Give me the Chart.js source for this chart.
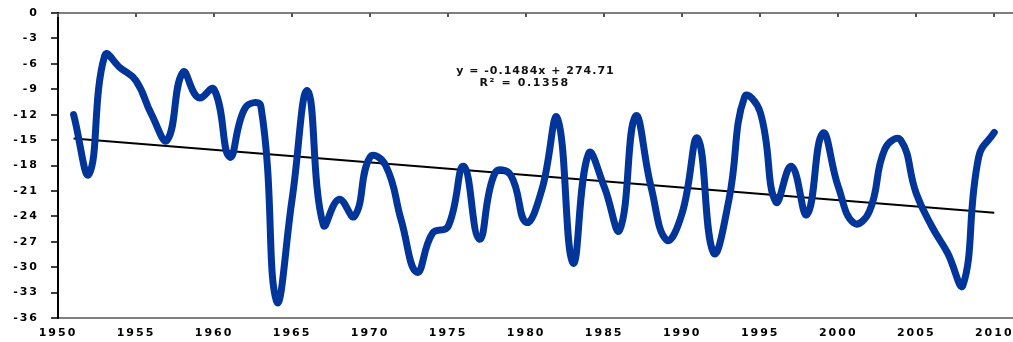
<!DOCTYPE html>
<html>
<head>
<meta charset="utf-8">
<script src="https://cdn.jsdelivr.net/npm/chart.js@4.4.1/dist/chart.umd.min.js"></script>
<style>
  html, body { margin: 0; padding: 0; background: #ffffff; }
  #wrap { width: 1013px; height: 342px; position: relative; }
</style>
</head>
<body>
<div id="wrap"><canvas id="chart"></canvas></div>
<script>
// data
const years = [
  1951, 1952, 1953, 1954, 1955, 1956, 1957, 1958, 1959, 1960,
  1961, 1962, 1963, 1964, 1965, 1966, 1967, 1968, 1969, 1970,
  1971, 1972, 1973, 1974, 1975, 1976, 1977, 1978, 1979, 1980,
  1981, 1982, 1983, 1984, 1985, 1986, 1987, 1988, 1989, 1990,
  1991, 1992, 1993, 1994, 1995, 1996, 1997, 1998, 1999, 2000,
  2001, 2002, 2003, 2004, 2005, 2006, 2007, 2008, 2009, 2010,
];
const values = [
  -12, -19, -5, -6.5, -8, -12, -15, -7, -10, -9,
  -17, -11.2, -11, -34, -22, -9.2, -25, -22, -24, -17,
  -18, -24.5, -30.6, -26, -25.2, -18.1, -26.7, -18.9, -19.1, -24.7,
  -20.9, -12.4, -29.5, -16.6, -20.5, -25.6, -12.2, -20.5, -26.8, -23.6,
  -14.8, -28.3, -22, -9.9, -11.7, -22.3, -18.1, -23.8, -14.2, -20.5,
  -24.8, -23.4, -16, -15, -21.3, -25.2, -28.3, -32.1, -17, -14.1,
];
// linear trend end points (y = -0.1484x + 274.71)
const trendYears = [1951, 2010];
const trendValues = [-14.82, -23.57];
const xTicks = [1950, 1955, 1960, 1965, 1970, 1975, 1980, 1985, 1990, 1995, 2000, 2005, 2010];
const equationLines = ["y = -0.1484x + 274.71", "R\u00b2 = 0.1358"];

const font = { family: "'DejaVu Sans', Verdana, sans-serif", size: 11, weight: "bold" };

// the original labels are wide and squat, spread the letters a little
const spacingPlugin = {
  id: "spacing",
  beforeDraw(chart) {
    chart.ctx.letterSpacing = "2px";
  },
  afterDraw(chart) {
    chart.ctx.letterSpacing = "0px";
  },
};

// tick marks hanging down from the top (value 0) axis line + trend equation text
const extrasPlugin = {
  id: "extras",
  afterDatasetsDraw(chart) {
    const ctx = chart.ctx;
    const x = chart.scales.x;
    const y = chart.scales.y;
    const top = y.getPixelForValue(0);
    ctx.save();
    ctx.strokeStyle = "#555555";
    ctx.lineWidth = 2;
    xTicks.forEach((v) => {
      const px = Math.round(x.getPixelForValue(v));
      ctx.beginPath();
      ctx.moveTo(px, top);
      ctx.lineTo(px, top + 4);
      ctx.stroke();
    });
    ctx.fillStyle = "#111111";
    ctx.font = "bold 11px 'DejaVu Sans', Verdana, sans-serif";
    ctx.textAlign = "center";
    ctx.textBaseline = "middle";
    ctx.letterSpacing = "1px";
    ctx.fillText(equationLines[0], x.getPixelForValue(1980.6), y.getPixelForValue(-6.9));
    ctx.letterSpacing = "1.6px";
    ctx.fillText(equationLines[1], x.getPixelForValue(1979.9), y.getPixelForValue(-8.3));
    ctx.restore();
  },
};

new Chart(document.getElementById("chart"), {
  type: "line",
  data: {
    datasets: [
      {
        label: "series",
        data: years.map((yr, i) => ({ x: yr, y: values[i] })),
        borderColor: "#02359a",
        borderWidth: 7,
        pointRadius: 0,
        tension: 0.45,
        fill: false,
        borderCapStyle: "round",
        borderJoinStyle: "round",
      },
      {
        label: "trend",
        data: trendYears.map((yr, i) => ({ x: yr, y: trendValues[i] })),
        borderColor: "#000000",
        borderWidth: 2,
        pointRadius: 0,
        tension: 0,
        fill: false,
      },
    ],
  },
  options: {
    responsive: true,
    maintainAspectRatio: false,
    animation: false,
    layout: { padding: { top: 13, right: 0, left: 0, bottom: 0 } },
    plugins: {
      legend: { display: false },
      tooltip: { enabled: false },
    },
    scales: {
      x: {
        type: "linear",
        min: 1950,
        max: 2011.2,
        afterBuildTicks: (axis) => {
          axis.ticks = xTicks.map((v) => ({ value: v }));
        },
        afterFit: (axis) => {
          axis.height = 24;
          // let the plot run to the right edge like the original
          axis.paddingLeft = 0;
          axis.paddingRight = 0;
        },
        ticks: {
          color: "#000000",
          font: font,
          padding: 9,
          maxRotation: 0,
          autoSkip: false,
          callback: (v) => String(v),
        },
        grid: { display: true, drawOnChartArea: false, drawTicks: false },
        border: { display: true, color: "#7f7f7f", width: 2 },
      },
      y: {
        min: -36,
        max: 0,
        afterFit: (axis) => {
          axis.width = 58;
          // keep the label padding from pushing the plot area down
          axis.paddingTop = 0;
          axis.paddingBottom = 0;
        },
        ticks: {
          stepSize: 3,
          color: "#000000",
          font: font,
          padding: 12,
        },
        grid: {
          drawOnChartArea: true,
          drawTicks: true,
          tickLength: 7,
          lineWidth: 2,
          tickWidth: 1.5,
          color: (c) => (c.tick && c.tick.value === 0 ? "#7f7f7f" : "rgba(0,0,0,0)"),
          tickColor: "#000000",
        },
        border: { display: true, color: "#000000", width: 2 },
      },
    },
  },
  plugins: [spacingPlugin, extrasPlugin],
});
</script>
</body>
</html>
